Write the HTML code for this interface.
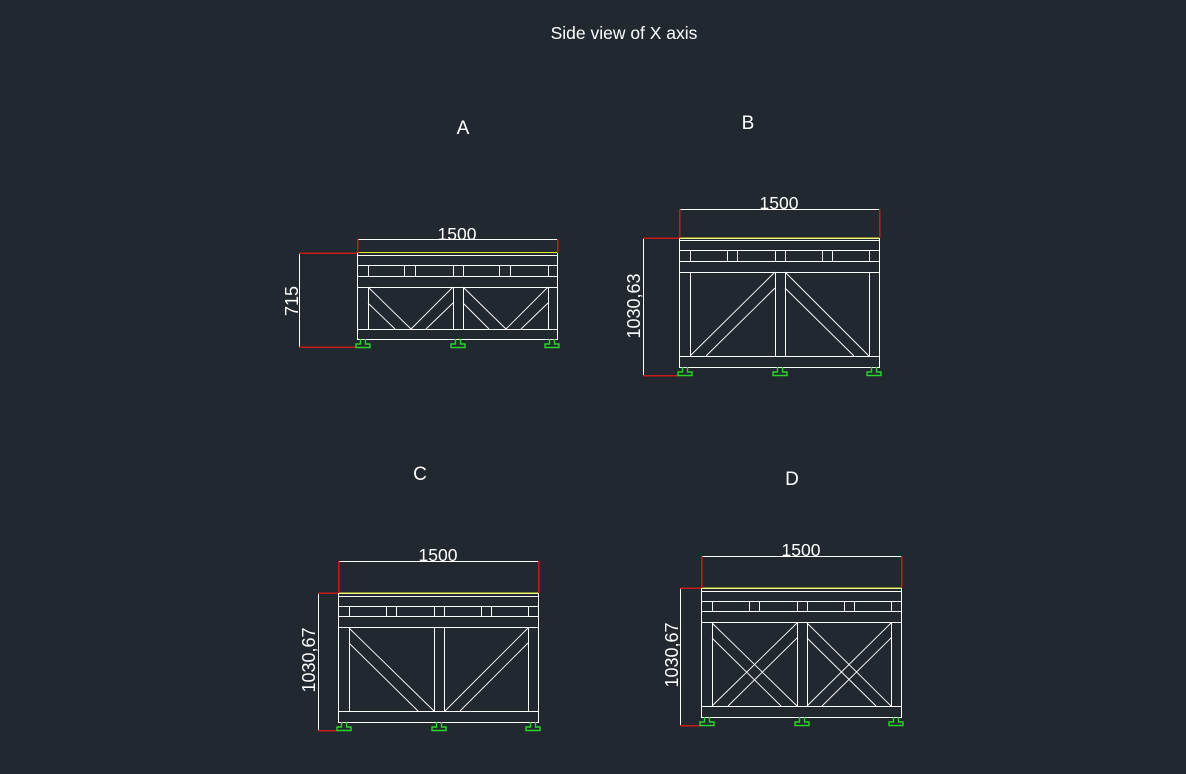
<!DOCTYPE html>
<html><head><meta charset="utf-8"><style>
html,body{margin:0;padding:0;background:#212830;}
svg{display:block}
text{font-family:"Liberation Sans",sans-serif;fill:#fff}
</style></head><body>
<svg width="1186" height="774" viewBox="0 0 1186 774" xmlns="http://www.w3.org/2000/svg">
<rect width="1186" height="774" fill="#212830"/>
<text x="624" y="39" font-size="17.5" text-anchor="middle">Side view of X axis</text>
<text x="463" y="134" font-size="19" text-anchor="middle">A</text>
<text x="748" y="129" font-size="19" text-anchor="middle">B</text>
<text x="420" y="480" font-size="19" text-anchor="middle">C</text>
<text x="792" y="485" font-size="19" text-anchor="middle">D</text>

<g stroke="#fff" stroke-width="1" fill="none" shape-rendering="crispEdges">
<!-- A -->
<path d="M357.5 239.5H557.5"/>
<rect x="357.5" y="252.5" width="200" height="87"/>
<path d="M357 255.5H557M357 265.5H557M357 276.5H557M357 287.5H557M357 329.5H557"/>
<path d="M368.5 265V276M404.5 265V276M415.5 265V276M453.5 265V276M463.5 265V276M499.5 265V276M510.5 265V276M548.5 265V276"/>
<path d="M368.5 287V329M453.5 287V329M463.5 287V329M548.5 287V329"/>
<path d="M299.5 253V347"/>
<!-- B -->
<path d="M679.5 209.5H879.5"/>
<rect x="679.5" y="238.5" width="200" height="129"/>
<path d="M679 240.5H879M679 250.5H879M679 261.5H879M679 272.5H879M679 356.5H879"/>
<path d="M690.5 250V261M727.5 250V261M737.5 250V261M775.5 250V261M785.5 250V261M822.5 250V261M832.5 250V261M869.5 250V261"/>
<path d="M690.5 272V356M775.5 272V356M785.5 272V356M869.5 272V356"/>
<path d="M643.5 238V376"/>
<!-- C -->
<path d="M338.5 561.5H538.5"/>
<rect x="338.5" y="593.5" width="200" height="129"/>
<path d="M338 596.5H538M338 606.5H538M338 616.5H538M338 627.5H538M338 711.5H538"/>
<path d="M349.5 606V616M386.5 606V616M396.5 606V616M434.5 606V616M444.5 606V616M481.5 606V616M491.5 606V616M528.5 606V616"/>
<path d="M349.5 627V711M434.5 627V711M444.5 627V711M528.5 627V711"/>
<path d="M318.5 593V731"/>
<!-- D -->
<path d="M701.5 556.5H901.5"/>
<rect x="701.5" y="588.5" width="200" height="129"/>
<path d="M701 591.5H901M701 601.5H901M701 611.5H901M701 622.5H901M701 706.5H901"/>
<path d="M712.5 601V611M749.5 601V611M759.5 601V611M797.5 601V611M807.5 601V611M844.5 601V611M854.5 601V611M891.5 601V611"/>
<path d="M712.5 622V706M797.5 622V706M807.5 622V706M891.5 622V706"/>
<path d="M680.5 588V726"/>
</g>
<g stroke="#fff" stroke-width="0.9" fill="none">
<path d="M368 287L411 329M368 303L395 329M411 329L453 287M426 329L453 303"/>
<path d="M463 287L506 329M463 303L489 329M506 329L548 287M521 329L548 303"/>
<path d="M690 356L775 272M706 356L775 288M785 272L869 356M785 288L854 356"/>
<path d="M349 628L434 711M349 643L418 711M445 711L528 628M460 711L528 643"/>
<path d="M712 623L797 706M712 638L781 706M797 623L712 706M797 638L728 706"/>
<path d="M807 623L891 706M807 638L876 706M891 623L807 706M891 638L822 706"/>
</g>
<g stroke="#e8e820" stroke-width="1.2" shape-rendering="crispEdges">
<path d="M357 252.5H557M679 238H879M338 593H538M701 588H901"/>
</g>
<g stroke="#c41a1a" stroke-width="1.5" fill="none" shape-rendering="crispEdges">
<path d="M357.5 239V253M557.5 239V253M299 253H357M299 347H357"/>
<path d="M679.5 209V238M879.5 209V238M643 238H679M643 375.5H679"/>
<path d="M338.5 561V593M538.5 561V593M318 593H338M318 730.5H338"/>
<path d="M701.5 556V588M901.5 556V588M680 588H701M680 725.5H701"/>
</g>
<defs>
<path id="ft" d="M-2.5 0V5H-7V8.5H7V5H2.5V0" fill="none" stroke="#2ad42a" stroke-width="1.4"/>
</defs>
<use href="#ft" x="363" y="339"/><use href="#ft" x="458" y="339"/><use href="#ft" x="552" y="339"/>
<use href="#ft" x="685" y="367"/><use href="#ft" x="780" y="367"/><use href="#ft" x="874" y="367"/>
<use href="#ft" x="344" y="722"/><use href="#ft" x="439" y="722"/><use href="#ft" x="533" y="722"/>
<use href="#ft" x="707" y="717"/><use href="#ft" x="802" y="717"/><use href="#ft" x="896" y="717"/>

<text x="457" y="240" font-size="17.5" text-anchor="middle">1500</text>
<text x="779" y="209" font-size="17.5" text-anchor="middle">1500</text>
<text x="438" y="561" font-size="17.5" text-anchor="middle">1500</text>
<text x="801" y="556" font-size="17.5" text-anchor="middle">1500</text>
<text transform="translate(298,301) rotate(-90)" font-size="18" text-anchor="middle">715</text>
<text transform="translate(640,306) rotate(-90)" font-size="18" text-anchor="middle">1030,63</text>
<text transform="translate(315,660) rotate(-90)" font-size="18" text-anchor="middle">1030,67</text>
<text transform="translate(678,655) rotate(-90)" font-size="18" text-anchor="middle">1030,67</text>
</svg>
</body></html>
